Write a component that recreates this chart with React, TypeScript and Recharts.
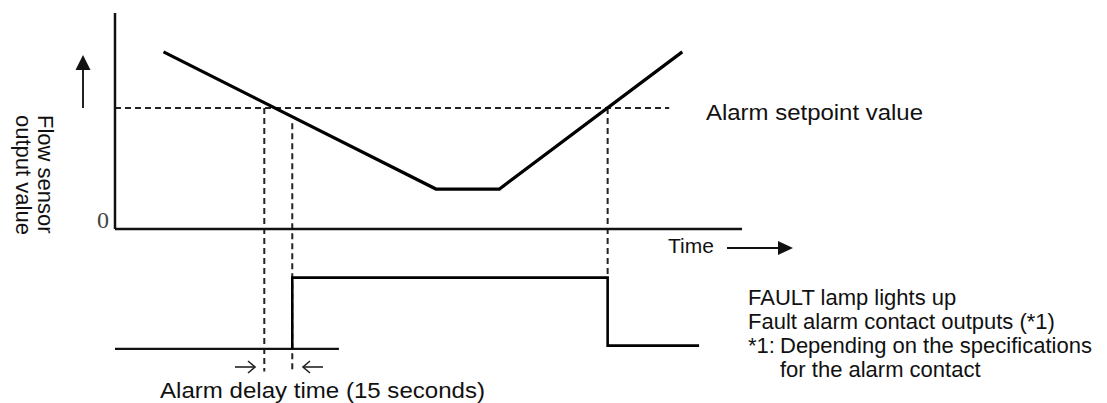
import React from "react";
import { ComposedChart, Line, XAxis, YAxis, ReferenceLine } from "recharts";

// Time axis in seconds, value axis in % of sensor output range
const flowTime = [26, 172, 206, 304];
const flowValue = [82, 18.5, 18.5, 82];
const setpointValue = 56;
const setpointEnd = 297;
const crossDownTime = 80; // flow falls below setpoint
const alarmDelay = 15; // seconds
const alarmOnTime = crossDownTime + alarmDelay;
const recoverTime = 264; // flow rises above setpoint
const signalLow = -55.5;
const signalLowAfter = -54;
const signalHigh = -22.5;
const idleTime = [0, 120];
const idleLevel = [signalLow, signalLow];
const alarmTime = [alarmOnTime, alarmOnTime, recoverTime, recoverTime, 313];
const alarmLevel = [signalLow, signalHigh, signalHigh, signalLowAfter, signalLowAfter];
const guideBottom = -66;
const timeMax = 336;
const valueMin = -80;
const valueMax = 100;

const rightNotes = [
  "FAULT lamp lights up",
  "Fault alarm contact outputs (*1)",
];

const W = 1107;
const H = 403;
const FONT = "'Liberation Sans', Arial, Helvetica, sans-serif";

export default function App() {
  const flowData = flowTime.map((t, i) => ({ t, v: flowValue[i] }));
  const idleData = idleTime.map((t, i) => ({ t, v: idleLevel[i] }));
  const alarmData = alarmTime.map((t, i) => ({ t, v: alarmLevel[i] }));
  const flowAt = (t: number) => {
    for (let i = 0; i < flowTime.length - 1; i++) {
      if (t >= flowTime[i] && t <= flowTime[i + 1]) {
        const f = (t - flowTime[i]) / (flowTime[i + 1] - flowTime[i]);
        return flowValue[i] + f * (flowValue[i + 1] - flowValue[i]);
      }
    }
    return flowValue[0];
  };
  const dash = "6 4";
  return (
    <div style={{ position: "absolute", left: 0, top: 0, width: W, height: H, background: "#fff" }}>
      <ComposedChart width={W} height={H} margin={{ top: 13, right: 365, bottom: 1.2, left: 115 }}>
        <XAxis type="number" dataKey="t" domain={[0, timeMax]} hide allowDataOverflow />
        <YAxis type="number" domain={[valueMin, valueMax]} hide allowDataOverflow width={0} />
        <ReferenceLine
          segment={[{ x: 0, y: setpointValue }, { x: setpointEnd, y: setpointValue }]}
          stroke="#222" strokeWidth={2} strokeDasharray={dash}
        />
        <ReferenceLine
          segment={[{ x: crossDownTime, y: setpointValue }, { x: crossDownTime, y: guideBottom }]}
          stroke="#222" strokeWidth={2} strokeDasharray={dash}
        />
        <ReferenceLine
          segment={[{ x: alarmOnTime, y: flowAt(alarmOnTime) - 3 }, { x: alarmOnTime, y: guideBottom }]}
          stroke="#222" strokeWidth={2} strokeDasharray={dash}
        />
        <ReferenceLine
          segment={[{ x: recoverTime, y: setpointValue }, { x: recoverTime, y: signalHigh }]}
          stroke="#222" strokeWidth={2} strokeDasharray={dash}
        />
        <ReferenceLine y={0} stroke="#111" strokeWidth={2.5} />
        <ReferenceLine segment={[{ x: 0, y: 0 }, { x: 0, y: valueMax }]} stroke="#111" strokeWidth={2.5} />
        <Line data={flowData} dataKey="v" type="linear" stroke="#000" strokeWidth={3.2} dot={false} activeDot={false} isAnimationActive={false} />
        <Line data={idleData} dataKey="v" type="linear" stroke="#111" strokeWidth={2.2} dot={false} activeDot={false} isAnimationActive={false} />
        <Line data={alarmData} dataKey="v" type="linear" stroke="#000" strokeWidth={2.6} dot={false} activeDot={false} isAnimationActive={false} />
      </ComposedChart>
      <svg width={W} height={H} style={{ position: "absolute", left: 0, top: 0, pointerEvents: "none" }}>
        {/* up arrow */}
        <line x1={83} y1={108} x2={83} y2={66} stroke="#222" strokeWidth={2} />
        <polygon points="75.5,70 83,55 90.5,70" fill="#111" />
        {/* y label */}
        <text transform="translate(38,115) rotate(90)" fontFamily={FONT} fontSize={22} fill="#111">Flow sensor</text>
        <text transform="translate(16,115) rotate(90)" fontFamily={FONT} fontSize={22} fill="#111">output value</text>
        <text x={97} y={228} fontFamily="'Liberation Serif', 'DejaVu Serif', serif" fontSize={24} fill="#444">0</text>
        {/* setpoint label */}
        <text x={706} y={120} fontFamily={FONT} fontSize={22} fill="#111" textLength={217} lengthAdjust="spacingAndGlyphs">Alarm setpoint value</text>
        {/* time axis label */}
        <text x={668} y={253} fontFamily={FONT} fontSize={21} fill="#111">Time</text>
        <line x1={727} y1={248} x2={782} y2={248} stroke="#111" strokeWidth={2} />
        <polygon points="778,241 793,248 778,255" fill="#111" />
        {/* right notes */}
        <text x={748} y={305} fontFamily={FONT} fontSize={22} fill="#111">{rightNotes[0]}</text>
        <text x={748} y={329} fontFamily={FONT} fontSize={22} fill="#111">{rightNotes[1]}</text>
        <text x={748} y={353} fontFamily={FONT} fontSize={22} fill="#111">*1:</text>
        <text x={780} y={353} fontFamily={FONT} fontSize={22} fill="#111">Depending on the specifications</text>
        <text x={780} y={377} fontFamily={FONT} fontSize={22} fill="#111">for the alarm contact</text>
        {/* delay arrows */}
        <line x1={235} y1={367} x2={255} y2={367} stroke="#222" strokeWidth={1.6} />
        <polyline points="248,361 255,367 248,373" fill="none" stroke="#222" strokeWidth={1.6} />
        <line x1={303} y1={367} x2={323} y2={367} stroke="#222" strokeWidth={1.6} />
        <polyline points="310,361 303,367 310,373" fill="none" stroke="#222" strokeWidth={1.6} />
        <text x={160} y={398} fontFamily={FONT} fontSize={22} fill="#111" textLength={325} lengthAdjust="spacingAndGlyphs">Alarm delay time (15 seconds)</text>
      </svg>
    </div>
  );
}
